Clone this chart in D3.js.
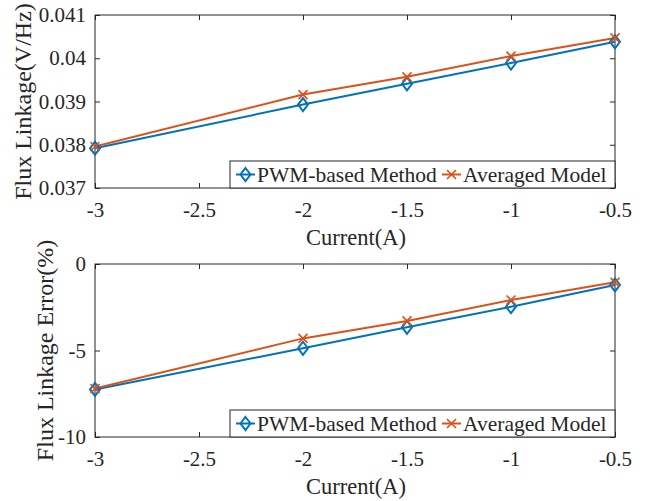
<!DOCTYPE html>
<html>
<head>
<meta charset="utf-8">
<script src="https://cdn.jsdelivr.net/npm/d3@7"></script>
<style>
html,body{margin:0;padding:0;background:#fff;}
svg{display:block;}
text{font-family:"Liberation Serif","Times New Roman",serif;fill:#262626;}
</style>
</head>
<body>
<svg id="chart" width="647" height="501"></svg>
<script>
const currents = [-3, -2, -1.5, -1, -0.5];
const xTicks = [-3, -2.5, -2, -1.5, -1, -0.5];
const pwmFlux = [0.03792, 0.03893, 0.03941, 0.03989, 0.04038];
const avgFlux = [0.03796, 0.03916, 0.03957, 0.04005, 0.04047];
const fluxTicks = [0.037, 0.038, 0.039, 0.04, 0.041];
const pwmErr = [-7.25, -4.87, -3.66, -2.47, -1.21];
const avgErr = [-7.2, -4.3, -3.29, -2.08, -1.06];
const errTicks = [-10, -5, 0];
const seriesNames = ["PWM-based Method", "Averaged Model"];
const xLabel = "Current(A)";
const yLabels = ["Flux Linkage(V/Hz)", "Flux Linkage Error(%)"];

const BLUE = "#0072BD", ORANGE = "#D95319", AX = "#262626";
const FONT = '"Liberation Serif","Times New Roman",serif';
const svg = d3.select("#chart");
const L = 95, R = 615;
const FS = 21;

function panel(top, bottom, yDomain, yTicks, yFmt, pwm, avg, yLabel, yLabelX) {
  const x = d3.scaleLinear().domain([-3, -0.5]).range([L, R]);
  const y = d3.scaleLinear().domain(yDomain).range([bottom, top]);
  const g = svg.append("g");
  g.append("rect").attr("x", L).attr("y", top).attr("width", R - L).attr("height", bottom - top)
    .attr("fill", "#fff").attr("stroke", AX).attr("stroke-width", 1);
  const tickLen = 5;
  const xb = g.append("g").attr("transform", `translate(0,${bottom})`)
    .call(d3.axisBottom(x).tickValues(xTicks).tickSizeInner(-tickLen).tickSizeOuter(0).tickPadding(14)
      .tickFormat(d => d3.format("")(d).replace("−", "-")));
  const xt = g.append("g").attr("transform", `translate(0,${top})`)
    .call(d3.axisTop(x).tickValues(xTicks).tickSizeInner(-tickLen).tickSizeOuter(0).tickFormat(""));
  const yl = g.append("g").attr("transform", `translate(${L},0)`)
    .call(d3.axisLeft(y).tickValues(yTicks).tickSizeInner(-tickLen).tickSizeOuter(0).tickPadding(9)
      .tickFormat(yFmt));
  const yr = g.append("g").attr("transform", `translate(${R},0)`)
    .call(d3.axisRight(y).tickValues(yTicks).tickSizeInner(-tickLen).tickSizeOuter(0).tickFormat(""));
  [xb, xt, yl, yr].forEach(a => {
    a.attr("font-family", FONT).attr("font-size", FS);
    a.select(".domain").remove();
    a.selectAll("line").attr("stroke", AX);
    a.selectAll("text").attr("fill", AX).attr("font-family", FONT).attr("font-size", FS);
  });
  xb.selectAll("text").attr("dy", "0.71em");
  g.append("text").attr("x", (L + R) / 2 + 1).attr("y", bottom + 57).attr("text-anchor", "middle")
    .attr("font-family", FONT).attr("font-size", 22.5).text(xLabel);
  g.append("text").attr("transform", `translate(${yLabelX},${(top + bottom) / 2}) rotate(-90)`)
    .attr("text-anchor", "middle").attr("dy", "0.35em")
    .attr("font-family", FONT).attr("font-size", 24).text(yLabel);

  const line = d3.line().x((d, i) => x(currents[i])).y(d => y(d));
  g.append("path").datum(pwm).attr("d", line).attr("fill", "none").attr("stroke", BLUE).attr("stroke-width", 2);
  g.append("path").datum(avg).attr("d", line).attr("fill", "none").attr("stroke", ORANGE).attr("stroke-width", 2);
  const dia = (cx, cy) => `M${cx},${cy - 6.5}L${cx + 5},${cy}L${cx},${cy + 6.5}L${cx - 5},${cy}Z`;
  g.selectAll(".dm").data(pwm).enter().append("path")
    .attr("d", (d, i) => dia(x(currents[i]), y(d))).attr("fill", "none").attr("stroke", BLUE).attr("stroke-width", 2);
  const cross = (cx, cy) => `M${cx - 4.5},${cy - 4.5}L${cx + 4.5},${cy + 4.5}M${cx - 4.5},${cy + 4.5}L${cx + 4.5},${cy - 4.5}`;
  g.selectAll(".xm").data(avg).enter().append("path")
    .attr("d", (d, i) => cross(x(currents[i]), y(d))).attr("fill", "none").attr("stroke", ORANGE).attr("stroke-width", 1.6);

  const lg = g.append("g");
  const lx0 = 230, ly0 = bottom - 27;
  lg.append("rect").attr("x", lx0).attr("y", ly0).attr("width", R - lx0).attr("height", 27)
    .attr("fill", "#fff").attr("stroke", AX).attr("stroke-width", 1);
  const cy = ly0 + 13.5;
  const entries = [{name: seriesNames[0], c: BLUE, x0: 236, t: 257, m: "d"},
                   {name: seriesNames[1], c: ORANGE, x0: 442, t: 463, m: "x"}];
  entries.forEach(e => {
    lg.append("line").attr("x1", e.x0).attr("x2", e.x0 + 19).attr("y1", cy).attr("y2", cy)
      .attr("stroke", e.c).attr("stroke-width", 2);
    lg.append("path").attr("d", e.m === "d" ? dia(e.x0 + 9.5, cy) : cross(e.x0 + 9.5, cy))
      .attr("fill", "none").attr("stroke", e.c).attr("stroke-width", e.m === "d" ? 2 : 1.6);
    lg.append("text").attr("x", e.t).attr("y", cy).attr("dy", "0.35em")
      .attr("font-family", FONT).attr("font-size", FS + 0.5).text(e.name);
  });
}

panel(15, 188, [0.037, 0.041], fluxTicks, d => d3.format("")(d), pwmFlux, avgFlux, yLabels[0], 23);
panel(264, 437, [-10, 0], errTicks, d => d3.format("")(d).replace("−", "-"), pwmErr, avgErr, yLabels[1], 45);
</script>
</body>
</html>
